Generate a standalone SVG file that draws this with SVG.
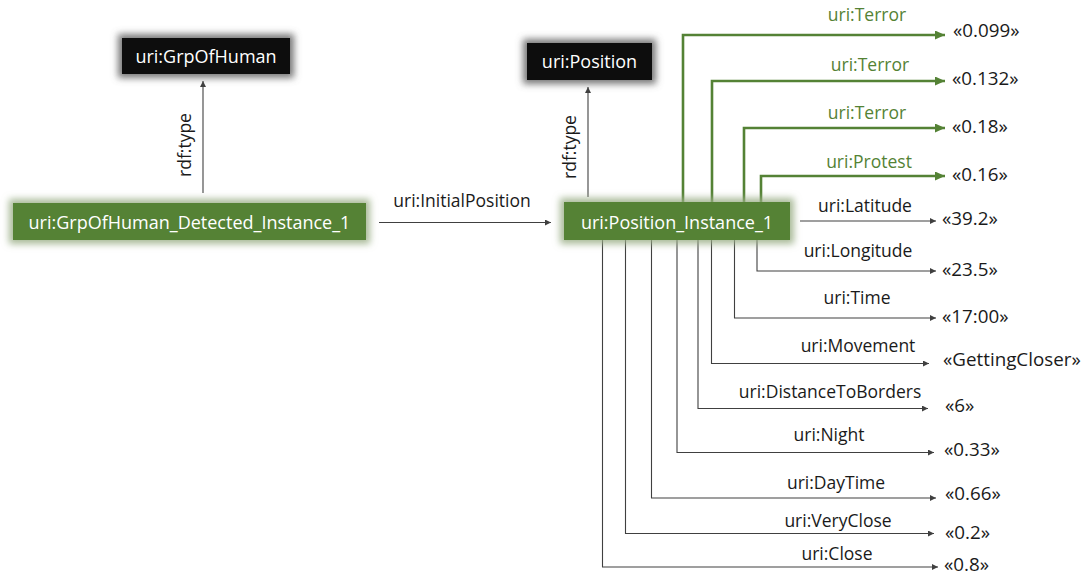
<svg xmlns="http://www.w3.org/2000/svg" width="1085" height="576" viewBox="0 0 1085 576">
  <style>
    text { font-family: "Open Sans", "Noto Sans", "DejaVu Sans", sans-serif; }
    .node-label { font-size: 18px; fill: #ffffff; text-anchor: middle; }
    .edge-label { font-size: 17.5px; fill: #1a1a1a; text-anchor: middle; }
    .score-label { font-size: 17.5px; fill: #548235; text-anchor: middle; }
    .value { font-size: 18.8px; fill: #1a1a1a; }
    .link { fill: none; stroke: #404040; stroke-width: 1.1; marker-end: url(#arrowDark); }
    .score { fill: none; stroke: #548235; stroke-width: 2.6; marker-end: url(#arrowGreen); }
    .class-box { fill: #0d0d0d; filter: url(#glowDark); }
    .inst-box { fill: #548235; filter: url(#glowGreen); }
  </style>
  <defs>
    <marker id="arrowDark" markerUnits="userSpaceOnUse" markerWidth="6" markerHeight="6" refX="6" refY="3" orient="auto">
      <path d="M0,0 L6,3 L0,6 z" fill="#404040"/>
    </marker>
    <marker id="arrowGreen" markerUnits="userSpaceOnUse" markerWidth="10" markerHeight="9" refX="10" refY="4.5" orient="auto">
      <path d="M0,0 L10,4.5 L0,9 z" fill="#548235"/>
    </marker>
    <filter id="glowDark" x="-30%" y="-70%" width="160%" height="240%">
      <feMorphology in="SourceAlpha" operator="dilate" radius="4" result="wide"/>
      <feGaussianBlur in="wide" stdDeviation="3.5" result="soft"/>
      <feFlood flood-color="#707070" flood-opacity="0.95"/>
      <feComposite in2="soft" operator="in" result="halo"/>
      <feMerge><feMergeNode in="halo"/><feMergeNode in="SourceGraphic"/></feMerge>
    </filter>
    <filter id="glowGreen" x="-20%" y="-70%" width="140%" height="240%">
      <feMorphology in="SourceAlpha" operator="dilate" radius="3.5" result="wide"/>
      <feGaussianBlur in="wide" stdDeviation="3.5" result="soft"/>
      <feFlood flood-color="#9aae86" flood-opacity="0.85"/>
      <feComposite in2="soft" operator="in" result="halo"/>
      <feMerge><feMergeNode in="halo"/><feMergeNode in="SourceGraphic"/></feMerge>
    </filter>
  </defs>

  <rect width="1085" height="576" fill="#ffffff"/>

  <!-- connectors -->
  <g id="connectors">
    <!-- rdf:type links -->
    <line class="link" x1="203" y1="193" x2="203" y2="81"/>
    <text class="edge-label" transform="translate(191,145) rotate(-90)">rdf:type</text>
    <line class="link" x1="588" y1="197" x2="588" y2="87"/>
    <text class="edge-label" transform="translate(576,147) rotate(-90)">rdf:type</text>

    <!-- uri:InitialPosition -->
    <line class="link" x1="379" y1="222.5" x2="551" y2="222.5"/>
    <text class="edge-label" x="462" y="207">uri:InitialPosition</text>

    <!-- scored event links -->
    <path class="score" d="M683,202 V35 H945"/>
    <text class="score-label" x="867" y="20.5">uri:Terror</text>
    <path class="score" d="M712,202 V81 H945"/>
    <text class="score-label" x="870" y="71">uri:Terror</text>
    <path class="score" d="M744,202 V128 H945"/>
    <text class="score-label" x="867" y="118.5">uri:Terror</text>
    <path class="score" d="M761,202 V176 H945"/>
    <text class="score-label" x="869" y="168">uri:Protest</text>

    <!-- position properties -->
    <line class="link" x1="800" y1="221" x2="936" y2="221"/>
    <text class="edge-label" x="865" y="212">uri:Latitude</text>
    <path class="link" d="M757,240 V271 H936"/>
    <text class="edge-label" x="858" y="257">uri:Longitude</text>
    <path class="link" d="M734.5,240 V318 H936"/>
    <text class="edge-label" x="857" y="304">uri:Time</text>
    <path class="link" d="M711.5,240 V363.5 H929"/>
    <text class="edge-label" x="858" y="352">uri:Movement</text>
    <path class="link" d="M698,240 V408.5 H928"/>
    <text class="edge-label" x="830" y="398">uri:DistanceToBorders</text>
    <path class="link" d="M677,240 V452.5 H934"/>
    <text class="edge-label" x="829" y="441">uri:Night</text>
    <path class="link" d="M651.5,240 V498 H936"/>
    <text class="edge-label" x="836" y="489">uri:DayTime</text>
    <path class="link" d="M625.5,240 V533.5 H934"/>
    <text class="edge-label" x="838" y="527">uri:VeryClose</text>
    <path class="link" d="M602.5,240 V567 H938"/>
    <text class="edge-label" x="837" y="560">uri:Close</text>
  </g>

  <!-- literal values -->
  <g id="values">
    <text class="value" x="953" y="37">«0.099»</text>
    <text class="value" x="952" y="85">«0.132»</text>
    <text class="value" x="952" y="133">«0.18»</text>
    <text class="value" x="952" y="181">«0.16»</text>
    <text class="value" x="942" y="225">«39.2»</text>
    <text class="value" x="942" y="276">«23.5»</text>
    <text class="value" x="942" y="323">«17:00»</text>
    <text class="value" x="943" y="366">«GettingCloser»</text>
    <text class="value" x="945" y="412">«6»</text>
    <text class="value" x="944" y="456">«0.33»</text>
    <text class="value" x="945" y="500">«0.66»</text>
    <text class="value" x="945" y="539">«0.2»</text>
    <text class="value" x="944" y="571">«0.8»</text>
  </g>

  <!-- nodes -->
  <g id="node-grp-of-human">
    <rect class="class-box" x="122" y="38" width="168" height="36"/>
    <text class="node-label" x="206" y="63">uri:GrpOfHuman</text>
  </g>
  <g id="node-position">
    <rect class="class-box" x="527" y="43" width="125" height="37"/>
    <text class="node-label" x="589.5" y="68">uri:Position</text>
  </g>
  <g id="node-grp-instance">
    <rect class="inst-box" x="13" y="203" width="353" height="37"/>
    <text class="node-label" x="189.5" y="228.5">uri:GrpOfHuman_Detected_Instance_1</text>
  </g>
  <g id="node-position-instance">
    <rect class="inst-box" x="564" y="202" width="226" height="38"/>
    <text class="node-label" x="677" y="228.5">uri:Position_Instance_1</text>
  </g>
</svg>
